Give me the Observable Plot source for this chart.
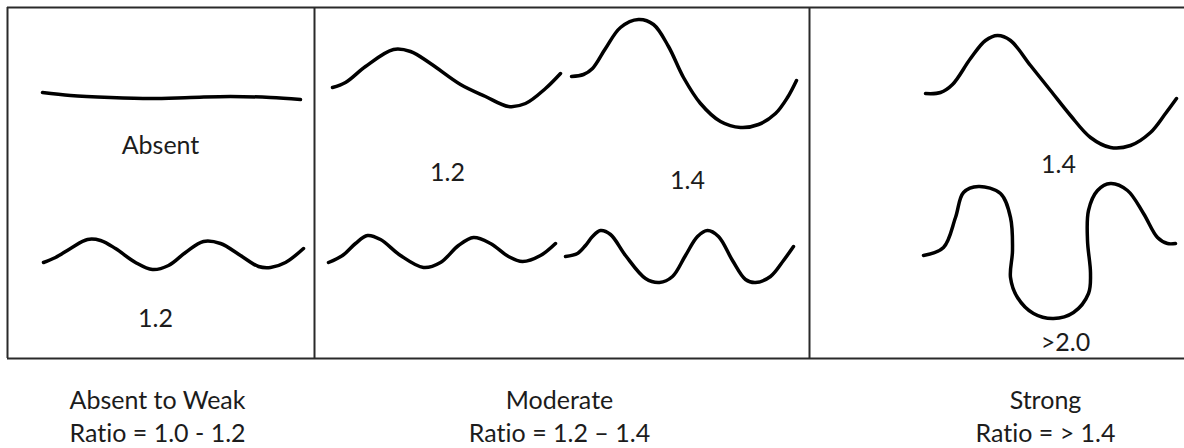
<!DOCTYPE html>
<html>
<head>
<meta charset="utf-8">
<script src="https://cdn.jsdelivr.net/npm/d3@7"></script>
<script src="https://cdn.jsdelivr.net/npm/@observablehq/plot@0.6"></script>
<style>
  html, body { margin: 0; padding: 0; background: #ffffff; }
  #chart svg { display: block; }
  #chart svg text { font-variant-ligatures: none; font-feature-settings: "liga" 0; }
</style>
</head>
<body>
<div id="chart"></div>
<script>
// ---- Data (page units: x to the right, y downward) ----
const absentLine = [[42,92],[70,95],[110,97],[150,98],[190,97],[230,96],[270,97],[300,99]];
const weakWave = [[43,262],[55,257],[70,248],[87,239],[100,240],[115,248],[135,262],[152,269],[168,265],[185,252],[203,241],[220,243],[240,255],[258,266],[270,267],[285,262],[303,248]];
const moderateTopLeft = [[332,87],[345,82],[365,66],[393,49],[410,51],[430,63],[460,84],[485,96],[508,106],[525,103],[545,88],[560,73]];
const moderateTopRight = [[571,76],[583,74],[592,68],[605,48],[620,27],[638,19],[653,24],[668,46],[683,77],[700,103],[720,121],[740,127],[758,124],[775,113],[787,97],[796,80]];
const moderateBottomLeft = [[328,262],[342,255],[355,243],[367,235],[380,239],[400,255],[423,267],[440,262],[458,245],[473,237],[490,243],[508,256],[522,261],[540,255],[555,243]];
const moderateBottomRight = [[565,256],[577,253],[585,245],[592,236],[600,230],[610,234],[625,255],[645,278],[659,282],[672,276],[685,255],[697,236],[707,230],[718,236],[732,260],[745,279],[755,282],[770,276],[783,260],[793,246]];
const strongTop = [[925,93],[940,92],[952,84],[970,58],[985,40],[997,35],[1010,40],[1030,65],[1050,90],[1070,115],[1090,137],[1110,147],[1130,145],[1150,132],[1165,113],[1176,98]];
const strongBottom = [[923,255],[943,247],[955,217],[963,192],[978,186],[1000,193],[1010,217],[1012,250],[1010,277],[1017,297],[1033,313],[1053,318],[1073,312],[1088,293],[1090,273],[1087,240],[1088,210],[1097,190],[1110,183],[1127,190],[1143,213],[1157,237],[1167,243],[1175,243]];

const curves = [absentLine, weakWave, moderateTopLeft, moderateTopRight, moderateBottomLeft, moderateBottomRight, strongTop, strongBottom];

const panelEdgesX = [7, 314, 809];
const frameTopY = 7, frameBottomY = 358, frameRightX = 1184;

const curveLabels = ["Absent", "1.2", "1.2", "1.4", "1.4", ">2.0"];
const curveLabelX = [160, 155, 447, 687, 1058, 1065];
const curveLabelY = [153, 326, 180, 188, 172, 350];

const categoryNames = ["Absent to Weak", "Moderate", "Strong"];
const ratioTexts = ["Ratio = 1.0 - 1.2", "Ratio = 1.2 \u2013 1.4", "Ratio = > 1.4"];
const categoryX = [157, 559, 1045];
const categoryY = 408, ratioY = 441;

// ---- Build tables ----
const curveRows = curves.flatMap((pts, i) => pts.map(([x, y]) => ({id: i, x, y})));
const vRules = panelEdgesX.map(x => ({x, y1: frameTopY, y2: frameBottomY}));
const hRules = [frameTopY, frameBottomY].map(y => ({y, x1: panelEdgesX[0], x2: frameRightX}));
const labelRows = curveLabels.map((t, i) => ({t, x: curveLabelX[i], y: curveLabelY[i]}));
const catRows = categoryNames.flatMap((n, i) => [
  {t: n, x: categoryX[i], y: categoryY},
  {t: ratioTexts[i], x: categoryX[i], y: ratioY}
]);

const chart = Plot.plot({
  width: 1184,
  height: 448,
  margin: 0,
  x: {domain: [0, 1184], range: [0, 1184], axis: null},
  y: {domain: [0, 448], range: [0, 448], axis: null},
  style: {background: "#ffffff", fontFamily: "Lato, 'Open Sans', sans-serif"},
  marks: [
    Plot.ruleX(vRules, {x: "x", y1: "y1", y2: "y2", stroke: "#2a2a2a", strokeWidth: 2}),
    Plot.ruleY(hRules, {y: "y", x1: "x1", x2: "x2", stroke: "#2a2a2a", strokeWidth: 2}),
    Plot.line(curveRows, {x: "x", y: "y", z: "id", curve: "catmull-rom", stroke: "#000", strokeWidth: 3.5, strokeLinecap: "round", strokeLinejoin: "round"}),
    Plot.text(labelRows, {x: "x", y: "y", text: "t", fontSize: 25, fill: "#1c1c1c", textAnchor: "middle", lineAnchor: "bottom"}),
    Plot.text(catRows, {x: "x", y: "y", text: "t", fontSize: 25, fill: "#1c1c1c", textAnchor: "middle", lineAnchor: "bottom"})
  ]
});
document.getElementById("chart").appendChild(chart);
</script>
</body>
</html>
